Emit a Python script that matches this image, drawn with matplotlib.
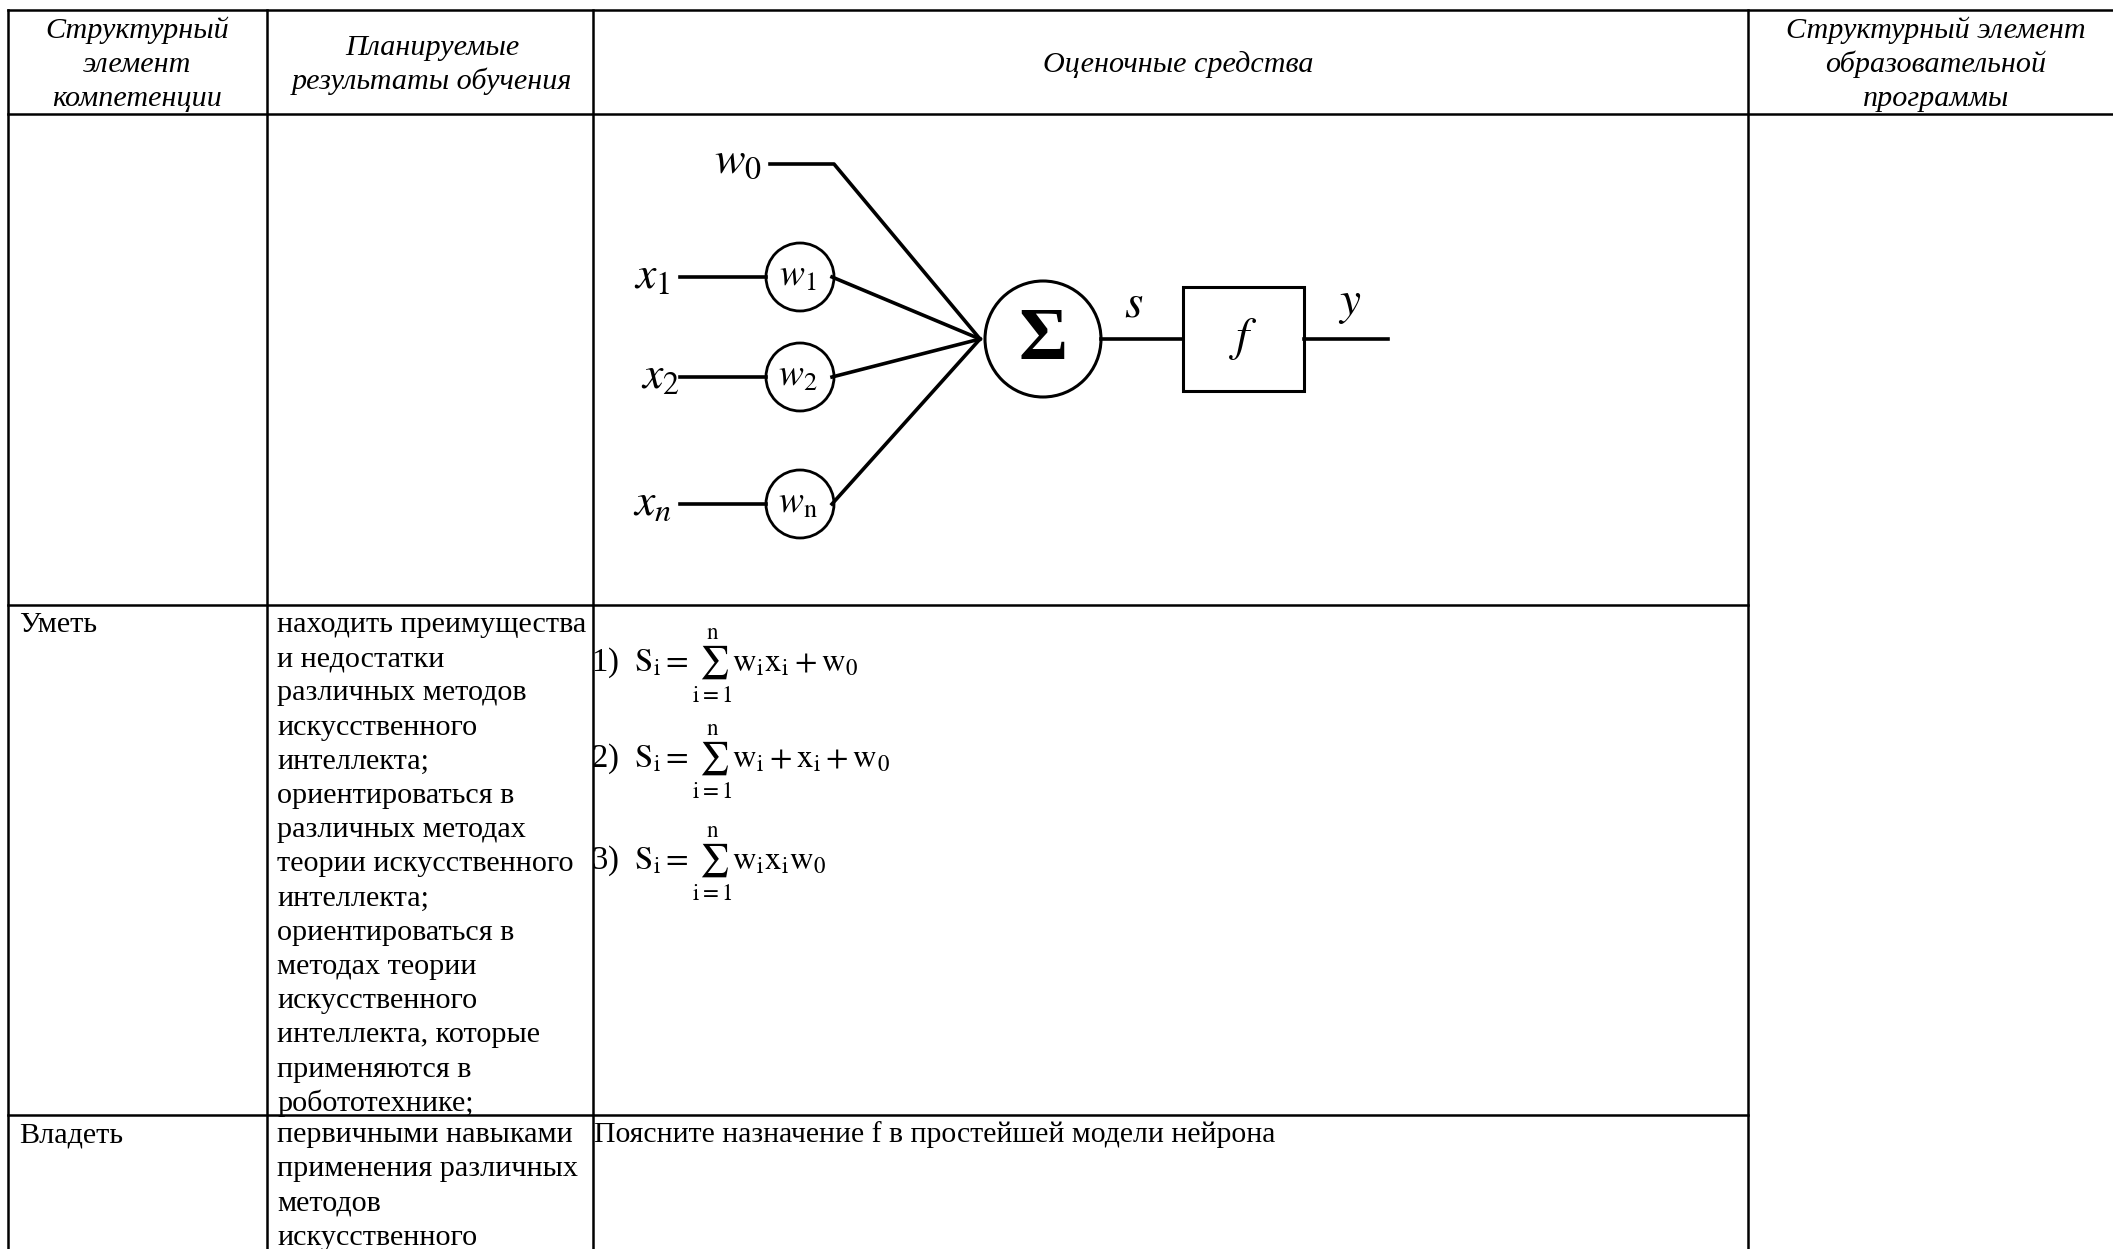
import matplotlib as mpl
mpl.use('Agg')
import matplotlib.pyplot as plt
from matplotlib.patches import Circle, Rectangle

mpl.rcParams['font.family'] = ['Liberation Serif', 'DejaVu Serif']
mpl.rcParams['mathtext.fontset'] = 'stix'

W, H = 2113, 1249

# table grid
col_x = [8, 267, 593, 1748]
right_edge = 2113
row_y = [10, 114, 605, 1115]

headers = [
    ['Структурный', 'элемент', 'компетенции'],
    ['Планируемые', 'результаты обучения'],
    ['Оценочные средства'],
    ['Структурный элемент', 'образовательной', 'программы'],
]
header_cx = [137, 432, 1178, 1936]

row_labels = ['Уметь', 'Владеть']
row_results = [
    ['находить преимущества', 'и недостатки', 'различных методов', 'искусственного',
     'интеллекта;', 'ориентироваться в', 'различных методах', 'теории искусственного',
     'интеллекта;', 'ориентироваться в', 'методах теории', 'искусственного',
     'интеллекта, которые', 'применяются в', 'робототехнике;'],
    ['первичными навыками', 'применения различных', 'методов', 'искусственного'],
]
formulas = [
    r'1)  $\mathrm{S_i} = \sum_{\mathrm{i=1}}^{\mathrm{n}}\mathrm{w_i x_i} + \mathrm{w_0}$',
    r'2)  $\mathrm{S_i} = \sum_{\mathrm{i=1}}^{\mathrm{n}}\mathrm{w_i} + \mathrm{x_i} + \mathrm{w_0}$',
    r'3)  $\mathrm{S_i} = \sum_{\mathrm{i=1}}^{\mathrm{n}}\mathrm{w_i x_i w_0}$',
]
formula_base = [672, 768, 870]
question = 'Поясните назначение f в простейшей модели нейрона'

# neuron diagram
inputs = [r'$x_{\mathit{1}}$', r'$x_{\mathit{2}}$', r'$x_{n}$']
input_lx = [652, 660, 652]
weights = [r'$w_{\mathrm{1}}$', r'$w_{\mathrm{2}}$', r'$w_{\mathrm{n}}$']
input_y = [277, 377, 504]
w_cx, w_r = 800, 34
hub = (980, 339)
sum_c, sum_r = (1043, 339), 58
box = (1183, 287, 121, 104)

fs = 21.7
line_h = 34.2
lw_grid = 1.8
lw_d = 2.6

fig = plt.figure(figsize=(W / 100, H / 100), dpi=100)
ax = fig.add_axes([0, 0, 1, 1])
ax.set_xlim(0, W)
ax.set_ylim(H, 0)
ax.axis('off')

# grid lines
ax.plot([col_x[0], right_edge], [row_y[0], row_y[0]], color='black', lw=lw_grid)
ax.plot([col_x[0], right_edge], [row_y[1], row_y[1]], color='black', lw=lw_grid)
for y in row_y[2:]:
    ax.plot([col_x[0], col_x[3]], [y, y], color='black', lw=lw_grid)
for x in col_x:
    ax.plot([x, x], [row_y[0], H], color='black', lw=lw_grid)

# header (baselines of a 3-line block at 38, 72, 106)
for lines, cx in zip(headers, header_cx):
    n = len(lines)
    first = 72 - (n - 1) / 2 * 34
    for i, t in enumerate(lines):
        ax.text(cx, first + i * 34, t, ha='center', va='baseline', fontsize=fs, style='italic')

# body rows
row_tops = [row_y[2], row_y[3]]
for lab, res, top in zip(row_labels, row_results, row_tops):
    base = top + 27
    ax.text(19, base, lab, ha='left', va='baseline', fontsize=fs)
    for i, t in enumerate(res):
        ax.text(277, base + i * line_h, t, ha='left', va='baseline', fontsize=fs)

for f, y in zip(formulas, formula_base):
    ax.text(591, y, f, ha='left', va='baseline', fontsize=23.5)
ax.text(594, row_y[3] + 27, question, ha='left', va='baseline', fontsize=21.4)

# neuron
for lab, lx, y in zip(inputs, input_lx, input_y):
    ax.text(lx, y, lab, ha='center', va='center', fontsize=33)
    ax.plot([680, w_cx - w_r], [y, y], color='black', lw=lw_d)
    ax.add_patch(Circle((w_cx, y), w_r, fill=False, lw=2.0, ec='black'))
for lab, y in zip(weights, input_y):
    ax.text(w_cx - 2, y, lab, ha='center', va='center', fontsize=27)
    ax.plot([w_cx + w_r - 2, hub[0]], [y, hub[1]], color='black', lw=lw_d)

ax.text(738, 162, r'$w_{\mathrm{0}}$', ha='center', va='center', fontsize=33)
ax.plot([770, 834, hub[0]], [164, 164, hub[1]], color='black', lw=lw_d)

ax.add_patch(Circle(sum_c, sum_r, fill=False, lw=2.2, ec='black'))
ax.text(sum_c[0], sum_c[1] + 2, 'Σ', ha='center', va='center', fontsize=54, fontweight='bold')
ax.plot([sum_c[0] + sum_r, box[0]], [339, 339], color='black', lw=lw_d)
ax.add_patch(Rectangle(box[:2], box[2], box[3], fill=False, lw=2.2, ec='black'))
ax.text(box[0] + box[2] / 2, box[1] + box[3] / 2, r'$f$', ha='center', va='center', fontsize=34)
ax.plot([box[0] + box[2], 1388], [339, 339], color='black', lw=lw_d)
ax.text(1134, 305, r'$s$', ha='center', va='center', fontsize=34)
ax.text(1350, 305, r'$y$', ha='center', va='center', fontsize=34)

fig.savefig('out.png', dpi=100)
